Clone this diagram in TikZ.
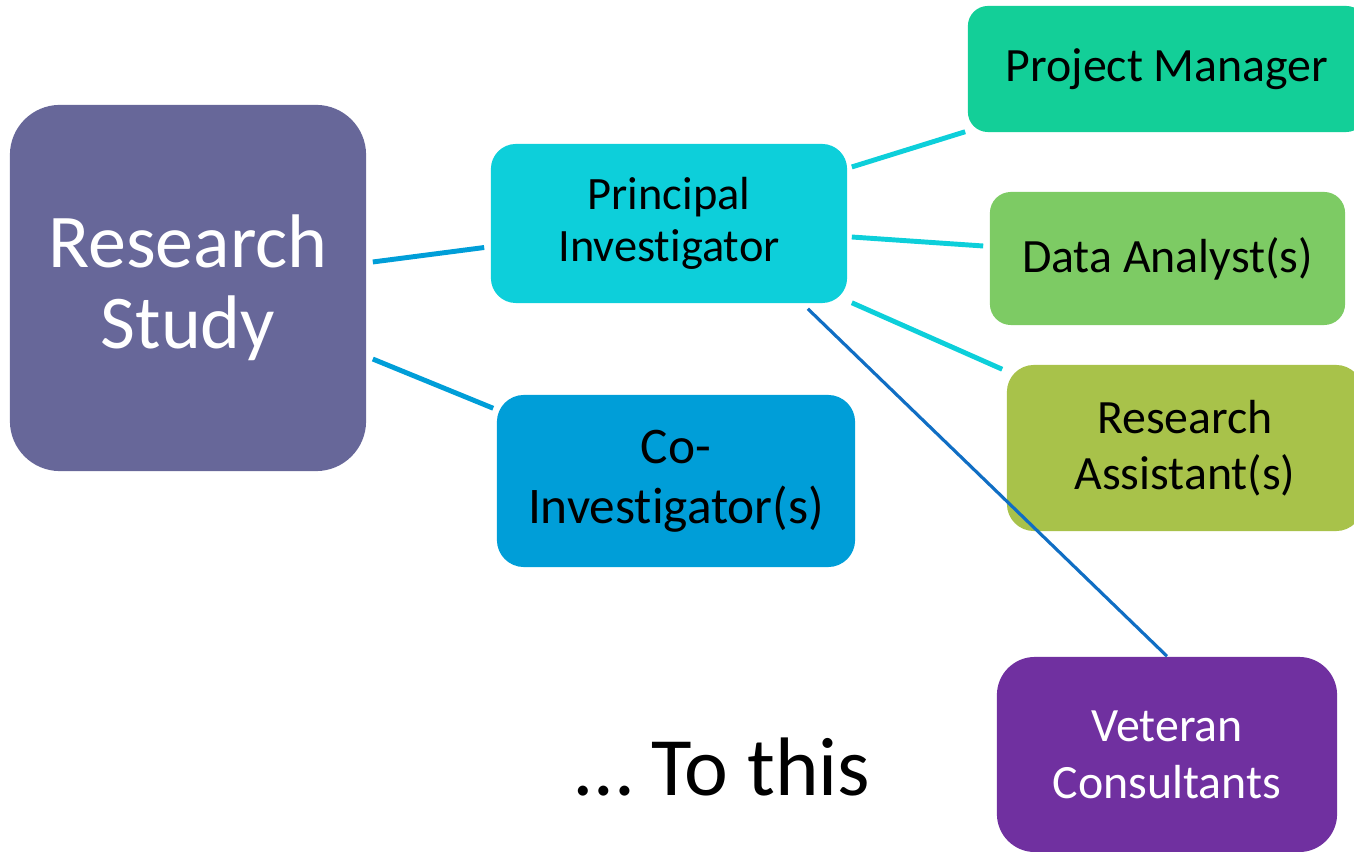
\documentclass[tikz,border=0pt]{standalone}
\usepackage{fontspec}
\setmainfont{Carlito}[Ligatures=NoCommon]
\definecolor{studycol}{RGB}{103,103,153}
\definecolor{picol}{RGB}{13,207,218}
\definecolor{coicol}{RGB}{0,158,216}
\definecolor{pmcol}{RGB}{19,207,152}
\definecolor{dacol}{RGB}{125,203,100}
\definecolor{racol}{RGB}{168,194,74}
\definecolor{vccol}{RGB}{112,48,160}
\definecolor{vclink}{RGB}{16,110,196}

\begin{document}
\begin{tikzpicture}[x=0.01cm, y=-0.01cm,
box/.style={rounded corners=0.25cm, inner sep=0pt, align=center},
link/.style={line width=1.4pt},
]
\useasboundingbox (0,0) rectangle (1354,852);
\clip (0,0) rectangle (1354,852);

\node[box, fill=studycol, text=white, rounded corners=0.5cm, minimum width=3.56cm, minimum height=3.66cm,
  font=\fontsize{21.6}{23}\selectfont] at (188,288) (study) {Research\\Study};
\node[box, fill=picol, minimum width=3.56cm, minimum height=1.59cm,
  font=\fontsize{13.2}{14.8}\selectfont] at (669,223.5) (pi) {Principal\\Investigator};
\node[box, fill=coicol, rounded corners=0.27cm, minimum width=3.58cm, minimum height=1.72cm,
  font=\fontsize{14.6}{17}\selectfont] at (676,481) (coi) {Co-\\Investigator(s)};
\node[box, fill=pmcol, rounded corners=0.2cm, minimum width=3.98cm, minimum height=1.26cm,
  font=\fontsize{13.6}{15}\selectfont] at (1167,69) (pm) {Project Manager};
\node[box, fill=dacol, rounded corners=0.21cm, minimum width=3.55cm, minimum height=1.33cm,
  font=\fontsize{13.6}{15}\selectfont] at (1167.5,258.5) (da) {Data Analyst(s)};
\node[box, fill=racol, rounded corners=0.27cm, minimum width=3.56cm, minimum height=1.66cm,
  font=\fontsize{13.6}{16}\selectfont] at (1185,448) (ra) {Research\\Assistant(s)};
\node[box, fill=vccol, text=white, rounded corners=0.38cm, minimum width=3.40cm, minimum height=1.95cm,
  font=\fontsize{13.6}{16.2}\selectfont] at (1167,754.5) (vc) {Veteran\\Consultants};

\node[anchor=base, inner sep=0pt, font=\fontsize{23.6}{28}\selectfont] at (723,795) (tothis) {… To this};

% Links from the study:
\draw[link, coicol] ([xshift=0.06cm, yshift=0.26cm]study.east) -- ([xshift=-0.06cm, yshift=-0.24cm]pi.west);
\draw[link, coicol] ([xshift=0.06cm, yshift=-0.71cm]study.east) -- ([xshift=-0.03cm, yshift=-0.14cm]coi.north west);

% Links from the PI:
\draw[link, picol] ([xshift=0.04cm, yshift=0.565cm]pi.east) -- ([xshift=-0.02cm, yshift=0.01cm]pm.south west);
\draw[link, picol] ([xshift=0.04cm, yshift=-0.135cm]pi.east) -- ([xshift=-0.06cm, yshift=0.125cm]da.west);
\draw[link, picol] ([xshift=0.04cm, yshift=0.01cm]pi.south east) -- ([xshift=-0.04cm, yshift=-0.05cm]ra.north west);
\draw[line width=0.9pt, vclink] ([xshift=-0.40cm, yshift=-0.05cm]pi.south east) -- (vc.north);
\end{tikzpicture}
\end{document}
